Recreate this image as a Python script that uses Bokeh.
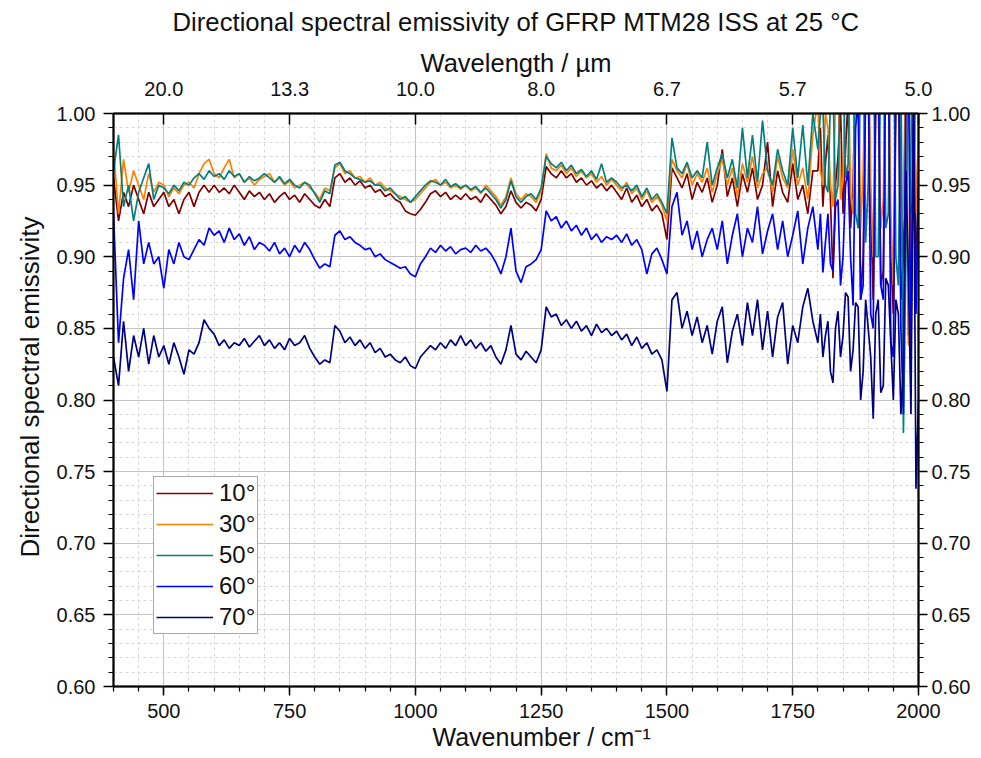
import numpy as np
from bokeh.plotting import figure
from bokeh.models import (Range1d, LinearAxis, FixedTicker, Legend, LegendItem,
                          NumeralTickFormatter, Title)
from bokeh.embed import file_html
from bokeh.resources import INLINE

# ---------------- data (emissivity in thousandths) ----------------
# 10 cm-1 sampling up to 1790, 5 cm-1 sampling in the noisy 1800-2000 part
wavenumber = np.concatenate([np.arange(400, 1800, 10), np.arange(1800, 2001, 5)])
angles = ["10°", "30°", "50°", "60°", "70°"]

eps_10 = [
    955, 925, 945, 935, 950, 940, 930, 945, 935, 940,
    945, 935, 940, 930, 940, 945, 935, 945, 950, 945,
    950, 945, 948, 944, 950, 945, 940, 946, 942, 945,
    940, 944, 938, 942, 945, 940, 943, 938, 944, 940,
    936, 934, 940, 935, 955, 958, 952, 955, 950, 953,
    948, 950, 945, 947, 942, 944, 940, 938, 932, 930,
    929, 933, 938, 944, 946, 942, 945, 940, 943, 940,
    944, 940, 942, 938, 944, 940, 936, 930, 935, 946,
    938, 934, 938, 936, 932, 940, 963, 958, 955, 960,
    955, 958, 952, 955, 950, 953, 948, 951, 946, 950,
    945, 940, 948, 938, 943, 935, 940, 932, 936, 930,
    912, 962, 955, 948, 958, 940, 952, 945, 955, 938,
    950, 975, 942, 955, 935, 958, 945, 962, 940, 950,
    980, 935, 960, 945, 938, 965, 940, 950, 930, 960,
    960, 990, 935, 965, 985, 940, 885, 950, 970, 1005,
    930, 975, 1010, 920, 950, 1040, 1030, 870, 900, 1020,
    1040, 930, 870, 1000, 1020, 880, 890, 1060, 1050, 900,
    860, 1000, 1030, 870, 900, 1040, 845, 960, 1050, 880,
    960]

eps_30 = [
    975, 930, 968, 945, 960, 950, 940, 958, 945, 952,
    950, 942, 948, 944, 950, 952, 948, 958, 965, 968,
    958, 955, 962, 968, 955, 958, 952, 955, 950, 954,
    956, 958, 952, 955, 950, 953, 948, 950, 952, 948,
    945, 940, 948, 946, 962, 965, 958, 960, 955, 956,
    952, 955, 950, 952, 948, 946, 944, 942, 940, 938,
    940, 944, 948, 952, 954, 950, 952, 948, 950, 947,
    950, 946, 948, 944, 950, 946, 942, 936, 942, 955,
    944, 940, 944, 942, 938, 946, 972, 962, 960, 964,
    958, 962, 956, 960, 955, 958, 952, 956, 950, 954,
    950, 946, 952, 944, 948, 940, 946, 938, 942, 936,
    925, 968, 960, 955, 965, 950, 958, 952, 962, 945,
    958, 968, 950, 962, 942, 965, 952, 970, 948, 958,
    962, 945, 970, 955, 948, 975, 950, 962, 940, 985,
    1010, 960, 950, 1000, 990, 950, 935, 1010, 1030, 940,
    955, 1030, 1040, 945, 930, 1040, 1050, 920, 960, 1050,
    1060, 950, 900, 1040, 1040, 920, 940, 1060, 1070, 930,
    880, 1050, 1050, 900, 930, 1050, 838, 900, 1060, 930,
    990]

eps_50 = [
    960, 985, 935, 950, 925, 945, 955, 965, 940, 950,
    948, 944, 950, 946, 952, 950, 955, 958, 954, 960,
    956, 958, 954, 960, 956, 958, 952, 956, 953, 955,
    958, 955, 952, 956, 951, 954, 950, 948, 952, 950,
    944, 938, 946, 944, 964, 966, 960, 958, 955, 954,
    952, 953, 950, 950, 946, 948, 944, 940, 942, 938,
    942, 946, 950, 953, 952, 950, 954, 949, 951, 948,
    950, 947, 949, 945, 948, 944, 940, 934, 940, 953,
    942, 938, 942, 944, 940, 948, 970, 965, 962, 966,
    960, 964, 958, 961, 956, 960, 954, 965, 952, 955,
    952, 948, 950, 946, 950, 942, 948, 940, 944, 938,
    930, 983, 962, 958, 966, 955, 960, 955, 980, 950,
    962, 972, 955, 968, 948, 990, 955, 985, 952, 995,
    960, 950, 975, 960, 950, 990, 955, 992, 950, 1000,
    975, 1000, 1005, 950, 945, 1010, 1020, 940, 950, 1030,
    1040, 955, 965, 1050, 1050, 930, 920, 1040, 1060, 910,
    950, 1060, 1070, 900, 900, 1040, 1050, 920, 930, 1070,
    1080, 900, 880, 1040, 777, 900, 1060, 930, 940, 1050,
    1000]

eps_60 = [
    930, 840, 885, 905, 870, 925, 895, 910, 895, 900,
    878, 905, 895, 910, 900, 898, 905, 912, 908, 920,
    915, 918, 910, 920, 912, 916, 908, 914, 905, 910,
    908, 904, 910, 902, 906, 900, 908, 903, 910, 905,
    898, 892, 895, 893, 915, 918, 912, 914, 910, 908,
    905, 906, 900, 902, 898, 896, 894, 892, 893, 888,
    886, 895, 900, 906, 903, 908, 904, 907, 902, 905,
    906, 903, 908, 904, 906, 902, 896, 888, 900, 920,
    890, 882, 893, 895, 898, 905, 932, 925, 928, 920,
    925, 918, 922, 915, 920, 912, 916, 910, 914, 912,
    915, 910, 916, 908, 912, 905, 888, 902, 906, 898,
    888, 935, 945, 915, 925, 905, 918, 900, 912, 920,
    905, 925, 895, 915, 930, 900, 920, 910, 935, 902,
    918, 930, 905, 925, 900, 915, 932, 895, 920, 935,
    905, 930, 889, 910, 930, 895, 890, 935, 940, 880,
    900, 950, 960, 900, 866, 990, 1010, 870, 880, 1020,
    1030, 860, 850, 1030, 1040, 880, 870, 1050, 1050, 840,
    830, 1040, 1060, 850, 790, 1030, 1040, 830, 1010, 860,
    960]

eps_70 = [
    830, 810, 855, 820, 845, 830, 850, 825, 845, 830,
    838, 825, 840, 830, 818, 835, 832, 840, 856, 850,
    846, 838, 842, 836, 840, 838, 843, 837, 841, 845,
    838, 842, 836, 840, 835, 843, 838, 840, 845, 836,
    830, 825, 828, 826, 852, 848, 840, 844, 838, 842,
    836, 840, 833, 836, 830, 832, 828, 826, 830, 824,
    822, 830, 834, 838, 835, 840, 836, 842, 838, 845,
    838, 842, 836, 840, 834, 838, 830, 825, 835, 852,
    832, 828, 834, 830, 826, 835, 865, 858, 860, 852,
    856, 850, 855, 848, 852, 845, 853, 847, 850, 845,
    848, 842, 846, 838, 844, 836, 840, 832, 835, 828,
    806, 870, 875, 850, 862, 845, 858, 840, 852, 832,
    855, 865, 826, 848, 860, 838, 868, 845, 870, 835,
    862, 830, 858, 868, 825, 852, 840, 865, 878, 855,
    840, 860, 830, 845, 855, 820, 812, 850, 862, 830,
    845, 875, 872, 820, 835, 868, 865, 800, 820, 870,
    850, 830, 787, 860, 870, 805, 810, 885, 880, 840,
    800, 870, 860, 790, 825, 960, 885, 790, 1010, 738,
    800]

x_ticks = [500, 750, 1000, 1250, 1500, 1750, 2000]
wavelength_labels = ["20.0", "13.3", "10.0", "8.0", "6.7", "5.7", "5.0"]
y_ticks = [0.60, 0.65, 0.70, 0.75, 0.80, 0.85, 0.90, 0.95, 1.00]

series = [eps_10, eps_30, eps_50, eps_60, eps_70]
colors = ["#800000", "#FF8000", "#008080", "#0000FF", "#000080"]
for s in series:
    assert len(s) == len(wavenumber), (len(s), len(wavenumber))

FONT = "Liberation Sans"

p = figure(width=981, height=758,
           x_range=Range1d(400, 2000), y_range=Range1d(0.6, 1.0),
           output_backend="svg", toolbar_location=None,
           min_border_left=113, min_border_right=63,
           min_border_top=113, min_border_bottom=72,
           title="Directional spectral emissivity of GFRP MTM28 ISS at 25 °C")
p.title.text_font = FONT
p.title.text_font_size = "25.7px"
p.title.text_font_style = "normal"
p.title.align = "center"
p.title.vertical_align = "top"
p.title.text_color = "#111111"
p.title.standoff = 15
p.background_fill_color = "white"
p.border_fill_color = "white"
p.outline_line_color = "black"
p.outline_line_width = 1.5

x_minor = list(range(400, 2001, 50))
y_minor = [round(0.60 + 0.01 * i, 2) for i in range(41)]

def style_axis(ax, tick_out, minor_out, tick_in=0, minor_in=0):
    ax.axis_line_width = 2
    ax.axis_line_color = "black"
    ax.major_tick_line_width = 1.5
    ax.minor_tick_line_width = 1.2
    ax.major_tick_line_color = "black"
    ax.minor_tick_line_color = "black"
    ax.major_tick_out = tick_out
    ax.minor_tick_out = minor_out
    ax.major_tick_in = tick_in
    ax.minor_tick_in = minor_in
    ax.major_label_text_font = FONT
    ax.major_label_text_font_size = "20px"
    ax.major_label_text_color = "#111111"
    ax.axis_label_text_font = FONT
    ax.axis_label_text_font_size = "25.5px"
    ax.axis_label_text_font_style = "normal"
    ax.axis_label_text_color = "#111111"

# bottom axis
xb = p.xaxis[0]
xb.ticker = FixedTicker(ticks=x_ticks, minor_ticks=x_minor)
style_axis(xb, 9, 5)
xb.major_label_standoff = 8

# left axis
yl = p.yaxis[0]
yl.ticker = FixedTicker(ticks=y_ticks, minor_ticks=y_minor)
yl.formatter = NumeralTickFormatter(format="0.00")
style_axis(yl, 10, 5)
yl.major_label_standoff = 8

# right axis
yr = LinearAxis(ticker=FixedTicker(ticks=y_ticks, minor_ticks=y_minor),
                formatter=NumeralTickFormatter(format="0.00"))
style_axis(yr, 9, 5)
yr.major_label_standoff = 4
p.add_layout(yr, "right")

# top axis (wavelength)
xt = LinearAxis(ticker=FixedTicker(ticks=x_ticks, minor_ticks=[]),
                major_label_overrides={t: l for t, l in zip(x_ticks, wavelength_labels)},
                axis_label="Wavelength / µm")
style_axis(xt, 0, 0, tick_in=11, minor_in=0)
xt.major_label_standoff = 18
xt.axis_label_standoff = 2
p.add_layout(xt, "above")

# axis titles placed like the original (slightly off-centre)
bottom_title = Title(text="Wavenumber / cm⁻¹", align="left", offset=319,
                     text_font=FONT, text_font_size="25px", text_font_style="normal",
                     text_color="#111111", standoff=0)
p.add_layout(bottom_title, "below")
left_title = Title(text="Directional spectral emissivity", align="left", offset=129,
                   vertical_align="top",
                   text_font=FONT, text_font_size="26px", text_font_style="normal",
                   text_color="#111111", standoff=14)
p.add_layout(left_title, "left")

# grids
p.xgrid.grid_line_color = "#c4c4c4"
p.xgrid.grid_line_width = 1
p.xgrid.minor_grid_line_color = "#d6d6d6"
p.xgrid.minor_grid_line_dash = "3 3"
p.ygrid.grid_line_color = "#c4c4c4"
p.ygrid.grid_line_width = 1
p.ygrid.minor_grid_line_color = "#d6d6d6"
p.ygrid.minor_grid_line_dash = "3 3"

items = []
for lab, vals, col in zip(angles, series, colors):
    y = np.array(vals) / 1000.0
    r = p.line(wavenumber, y, line_color=col, line_width=1.7)
    items.append(LegendItem(label=lab, renderers=[r]))

legend = Legend(items=items, location=(40, 52))
legend.label_text_font = FONT
legend.label_text_font_size = "24px"
legend.label_text_color = "#111111"
legend.glyph_width = 57
legend.glyph_height = 26
legend.label_height = 26
legend.label_standoff = 6
legend.spacing = 3
legend.padding = 2
legend.margin = 0
legend.border_line_color = "#555555"
legend.border_line_width = 1
legend.background_fill_color = "white"
legend.background_fill_alpha = 1.0
p.add_layout(legend)

open("out.html", "w").write(file_html(p, INLINE))
